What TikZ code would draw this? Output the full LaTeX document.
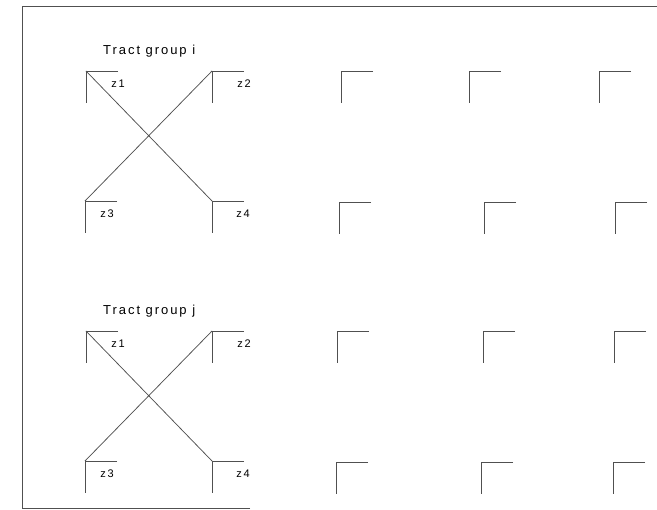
\documentclass[tikz,border=0pt]{standalone}
\usepackage{fontspec}
\usepackage{tikz}
\newfontfamily\plotfont[LetterSpace=15]{Liberation Sans}
\definecolor{inkgray}{RGB}{80,80,80}
\tikzset{
  corner/.style={draw=inkgray,line width=0.75pt},
  grouptitle/.style={font=\plotfont\fontsize{13}{15}\selectfont,anchor=west,inner sep=0pt},
  zlabel/.style={font=\plotfont\fontsize{11}{13}\selectfont,inner sep=0pt},
}

\begin{document}
\begin{tikzpicture}[x=1pt,y=-1pt]
        \useasboundingbox (0,0) rectangle (657,510);
        % frame
        \draw[inkgray,line width=0.6pt] (250,508) -- (22,508) -- (22,6) -- (657,6);
        % the two tract groups
        \foreach \g/\yt in {i/0,j/260} {
          \node[grouptitle] (title\g) at (103,51+\yt) {Tract group \g};
          \coordinate (\g1) at (86,71+\yt);
          \coordinate (\g2) at (212,71+\yt);
          \coordinate (\g3) at (85,201+\yt);
          \coordinate (\g4) at (212,201+\yt);
          \foreach \k/\dx in {1/32,2/32,3/22,4/31} {
            \draw[corner] ([xshift=32pt]\g\k) -- (\g\k) -- ([yshift=-32pt]\g\k);
            \node[zlabel] (\g z\k) at ([shift={(\dx,13)}]\g\k) {z\k};
          }
          \draw[corner] (\g1) -- (\g4);
          \draw[corner] (\g2) -- (\g3);
        }
        % empty corners
        \foreach \yy/\xa/\xb/\xc in {71/341/469/599,202/339/484/615,331/337/483/614,462/336/481/613} {
          \foreach \xx in {\xa,\xb,\xc}
            \draw[corner] (\xx+32,\yy) -- (\xx,\yy) -- (\xx,\yy+32);
        }
\end{tikzpicture}
\end{document}
